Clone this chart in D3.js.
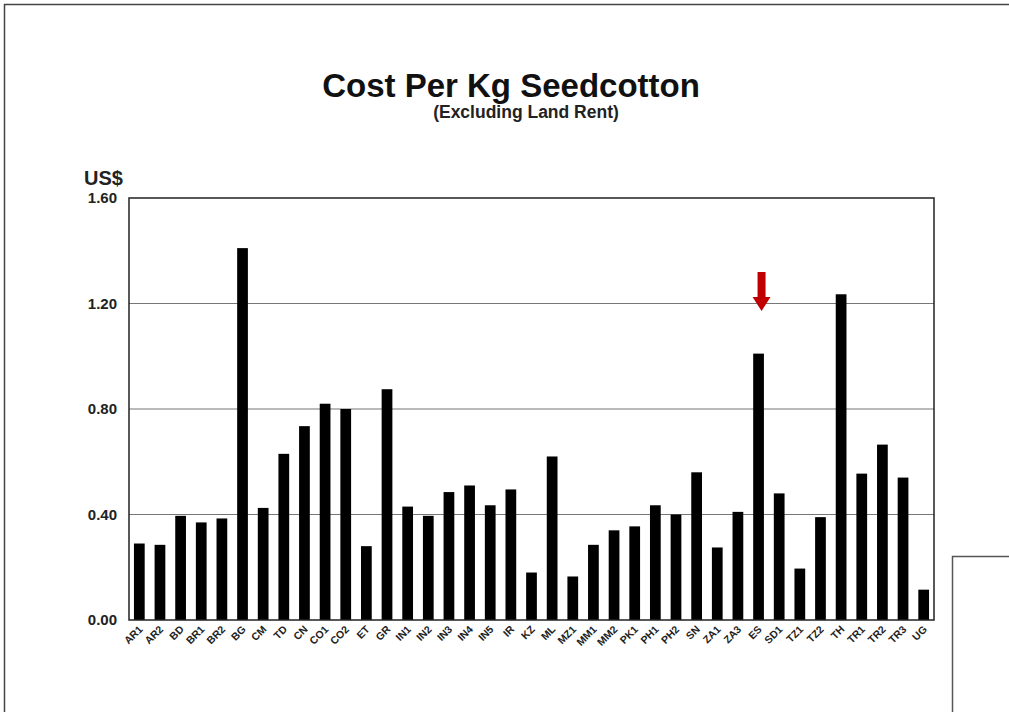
<!DOCTYPE html>
<html>
<head>
<meta charset="utf-8">
<script src="https://cdn.jsdelivr.net/npm/d3@7"></script>
<style>
  body { margin: 0; background: #fff; }
  text { font-family: "Liberation Sans", Arial, sans-serif; font-weight: bold; }
</style>
</head>
<body>
<script>
// Cost per kg seedcotton, excluding land rent (US$)
var countries = ['AR1', 'AR2', 'BD', 'BR1', 'BR2', 'BG', 'CM', 'TD', 'CN', 'CO1',
	'CO2', 'ET', 'GR', 'IN1', 'IN2', 'IN3', 'IN4', 'IN5', 'IR', 'KZ',
	'ML', 'MZ1', 'MM1', 'MM2', 'PK1', 'PH1', 'PH2', 'SN', 'ZA1', 'ZA3',
	'ES', 'SD1', 'TZ1', 'TZ2', 'TH', 'TR1', 'TR2', 'TR3', 'UG'];
var costs = [0.29, 0.285, 0.395, 0.37, 0.385, 1.41, 0.425, 0.63, 0.735, 0.82,
	0.80, 0.28, 0.875, 0.43, 0.395, 0.485, 0.51, 0.435, 0.495, 0.18,
	0.62, 0.165, 0.285, 0.34, 0.355, 0.435, 0.40, 0.56, 0.275, 0.41,
	1.01, 0.48, 0.195, 0.39, 1.235, 0.555, 0.665, 0.54, 0.115];
var yTicks = [0, 0.4, 0.8, 1.2, 1.6];
var highlighted = 'ES';

var data = countries.map(function(c, i) { return {name: c, value: costs[i]}; });

var svg = d3.select('body').append('svg')
	.attr('width', 1009)
	.attr('height', 712);

// slide frames
svg.append('path')
	.attr('d', 'M4.5 712 L4.5 4.5 L1009 4.5')
	.style('fill', 'none')
	.style('stroke', '#444')
	.style('stroke-width', 1.5);
svg.append('path')
	.attr('d', 'M952.5 712 L952.5 556.5 L1009 556.5')
	.style('fill', 'none')
	.style('stroke', '#555')
	.style('stroke-width', 1.5);

var plotLeft = 129, plotRight = 934, plotTop = 198, plotBottom = 620;

var x = d3.scaleBand()
	.domain(countries)
	.range([plotLeft, plotRight])
	.paddingInner(0.48)
	.paddingOuter(0.24);

var y = d3.scaleLinear()
	.domain([0, 1.6])
	.range([plotBottom, plotTop]);

// grid lines
svg.append('g')
	.selectAll('line')
	.data(yTicks.filter(function(t) { return t > 0 && t < 1.6; }))
	.enter()
	.append('line')
	.attr('x1', plotLeft)
	.attr('x2', plotRight)
	.attr('y1', function(d) { return y(d); })
	.attr('y2', function(d) { return y(d); })
	.style('stroke', '#777')
	.style('stroke-width', 1.2);

// bars
svg.append('g')
	.selectAll('rect')
	.data(data)
	.enter()
	.append('rect')
	.attr('x', function(d) { return x(d.name); })
	.attr('width', x.bandwidth())
	.attr('y', function(d) { return y(d.value); })
	.attr('height', function(d) { return y(0) - y(d.value); })
	.style('fill', '#000');

// plot border
svg.append('rect')
	.attr('x', plotLeft)
	.attr('y', plotTop)
	.attr('width', plotRight - plotLeft)
	.attr('height', plotBottom - plotTop)
	.style('fill', 'none')
	.style('stroke', '#222')
	.style('stroke-width', 1.5);

// y axis labels
var yAxis = d3.axisLeft(y)
	.tickValues(yTicks)
	.tickFormat(d3.format('.2f'))
	.tickSize(0)
	.tickPadding(12);
var gy = svg.append('g')
	.attr('transform', 'translate(' + plotLeft + ',0)')
	.call(yAxis);
gy.select('.domain').remove();
gy.selectAll('text')
	.style('font-size', '15px')
	.style('font-family', '"Liberation Sans", Arial, sans-serif')
	.style('font-weight', 'bold')
	.style('fill', '#222');

// x axis labels
var xAxis = d3.axisBottom(x).tickSize(0).tickPadding(0);
var gx = svg.append('g')
	.attr('transform', 'translate(0,' + plotBottom + ')')
	.call(xAxis);
gx.select('.domain').remove();
gx.selectAll('text')
	.attr('y', 0)
	.attr('dy', 0)
	.attr('transform', 'translate(4,10) rotate(-45)')
	.style('text-anchor', 'end')
	.style('font-size', '10.5px')
	.style('font-family', '"Liberation Sans", Arial, sans-serif')
	.style('font-weight', 'bold')
	.style('fill', '#222');

// titles
svg.append('text')
	.attr('x', 511)
	.attr('y', 97)
	.attr('text-anchor', 'middle')
	.style('font-size', '33px')
	.style('fill', '#111')
	.text('Cost Per Kg Seedcotton');
svg.append('text')
	.attr('x', 526)
	.attr('y', 118)
	.attr('text-anchor', 'middle')
	.style('font-size', '17.5px')
	.style('fill', '#222')
	.text('(Excluding Land Rent)');
svg.append('text')
	.attr('x', 84)
	.attr('y', 185)
	.style('font-size', '20px')
	.style('fill', '#222')
	.text('US$');

// red arrow above the highlighted bar
var ax = x(highlighted) + x.bandwidth() / 2 + 3;
svg.append('path')
	.attr('d', 'M' + (ax - 4) + ' 272 L' + (ax + 4) + ' 272 L' + (ax + 4) + ' 297 L' + (ax + 9) + ' 297 L' + ax + ' 311 L' + (ax - 9) + ' 297 L' + (ax - 4) + ' 297 Z')
	.style('fill', '#c00000');
</script>
</body>
</html>
